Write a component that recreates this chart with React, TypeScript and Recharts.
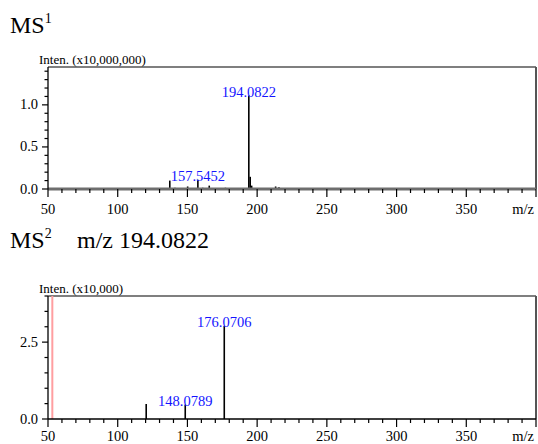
import React from 'react';
import { BarChart, Bar, XAxis, YAxis, ReferenceLine, LabelList } from 'recharts';

// MS1 spectrum (intensity in x10,000,000)
const ms1Mz = [122.1, 128.0, 137.4, 141.1, 150.2, 157.5452, 161.0, 165.7, 170.1, 177.3, 183.1, 194.0822, 195.09, 196.1, 213.3, 215.7, 306.1, 331.2];
const ms1Int = [0.01, 0.012, 0.1, 0.015, 0.03, 0.11, 0.015, 0.04, 0.012, 0.015, 0.01, 1.11, 0.145, 0.04, 0.03, 0.02, 0.01, 0.01];
const ms1Labeled = ['157.5452', '194.0822'];

// MS2 spectrum of m/z 194.0822 (intensity in x10,000)
const ms2Mz = [120.08, 148.0789, 176.0706];
const ms2Int = [0.49, 0.47, 3.03];
const ms2Labeled = ['148.0789', '176.0706'];
const ms2Marker = 53.1;

const xTicks = [50, 60, 70, 80, 90, 100, 110, 120, 130, 140, 150, 160, 170, 180, 190, 200, 210, 220, 230, 240, 250, 260, 270, 280, 290, 300, 310, 320, 330, 340, 350, 360, 370, 380, 390, 400];
const ms1YTicks = [0, 0.1, 0.2, 0.3, 0.4, 0.5, 0.6, 0.7, 0.8, 0.9, 1.0, 1.1, 1.2, 1.3, 1.4];
const ms1YLabels: Record<string, string> = { '0.0': '0.0', '0.5': '0.5', '1.0': '1.0' };
const ms2YTicks = [0, 0.5, 1.0, 1.5, 2.0, 2.5, 3.0, 3.5, 4.0];
const ms2YLabels: Record<string, string> = { '0.0': '0.0', '2.5': '2.5' };

const FONT = 'Liberation Serif';

const build = (mz: number[], inten: number[], labeled: string[]) =>
  mz.map((m, i) => {
    const s = String(m);
    return { mz: m, i: inten[i], label: labeled.includes(s) ? s : undefined };
  });

const ms1Data = build(ms1Mz, ms1Int, ms1Labeled);
const ms2Data = build(ms2Mz, ms2Int, ms2Labeled);

const makeXTick = (labelDy: number) => (props: any) => {
  const { x, y, payload } = props;
  const v = payload.value;
  const major = v % 50 === 0;
  const lbl = v === 400 ? 'm/z' : major ? String(v) : '';
  return (
    <g>
      <line x1={x} x2={x} y1={y} y2={y + (major ? 8 : 4)} stroke="#000" strokeWidth={1.2} />
      {lbl && (
        <text x={v === 400 ? x - 2 : x} y={y + labelDy} textAnchor={v === 400 ? 'end' : 'middle'} fontSize={14.5} style={{ fontFamily: FONT }} fill="#000">
          {lbl}
        </text>
      )}
    </g>
  );
};

const makeYTick = (labels: Record<string, string>) => (props: any) => {
  const { x, y, payload } = props;
  const key = Number(payload.value).toFixed(1);
  const lbl = labels[key];
  return (
    <g>
      <line x1={x - (lbl ? 6 : 3.5)} x2={x} y1={y} y2={y} stroke="#000" strokeWidth={1.2} />
      {lbl && (
        <text x={x - 10} y={y + 4.5} textAnchor="end" fontSize={14.5} style={{ fontFamily: FONT }} fill="#000">
          {lbl}
        </text>
      )}
    </g>
  );
};

const Peak = (props: any) => {
  const { x, y, width, height } = props;
  if (x == null || y == null) return null;
  const cx = x + width / 2;
  return <line x1={cx} x2={cx} y1={y} y2={y + height} stroke="#000" strokeWidth={1.6} />;
};

const PeakLabel = (props: any) => {
  const { x, y, width, value } = props;
  if (!value) return null;
  return (
    <text x={x + width / 2} y={y + 1} textAnchor="middle" fontSize={14.5} style={{ fontFamily: FONT }} fill="#1414ff">
      {value}
    </text>
  );
};

const Spectrum = ({ data, yMax, yTicks, yLabels, top, height, marginTop, xAxisHeight, baseStroke, baseWidth, marker, labelDy }: any) => (
  <div style={{ position: 'absolute', left: 0, top, width: 538, height }}>
    <BarChart width={538} height={height} data={data} margin={{ top: marginTop, right: 2, bottom: 0, left: 0 }} barSize={2}>
      <XAxis
        dataKey="mz"
        type="number"
        domain={[50, 400]}
        ticks={xTicks}
        interval={0}
        tickSize={0}
        tickMargin={0}
        tickLine={false}
        height={xAxisHeight}
        axisLine={{ stroke: baseStroke, strokeWidth: baseWidth }}
        tick={makeXTick(labelDy)}
        allowDataOverflow
      />
      <YAxis
        type="number"
        domain={[0, yMax]}
        ticks={yTicks}
        interval={0}
        tickSize={0}
        tickMargin={0}
        tickLine={false}
        width={48}
        axisLine={{ stroke: '#000', strokeWidth: 1.3 }}
        tick={makeYTick(yLabels)}
        allowDataOverflow
      />
      <ReferenceLine y={yMax} stroke="#000" strokeWidth={1.2} />
      <ReferenceLine x={400} stroke="#555" strokeWidth={2} />
      {marker != null && <ReferenceLine x={marker} stroke="#ff9ea0" strokeWidth={2} />}
      <Bar dataKey="i" isAnimationActive={false} shape={<Peak />}>
        <LabelList dataKey="label" content={<PeakLabel />} />
      </Bar>
    </BarChart>
  </div>
);

export default function App() {
  return (
    <div style={{ position: 'absolute', left: 0, top: 0, width: 538, height: 444, background: '#fff', overflow: 'hidden', fontFamily: FONT }}>
      <svg width={538} height={444} style={{ position: 'absolute', left: 0, top: 0, fontFamily: FONT }}>
        <text x={10} y={33} fontSize={24} fill="#000">
          MS<tspan fontSize={14} dy={-10}>1</tspan>
        </text>
        <text x={39} y={64} fontSize={13} fill="#000">Inten. (x10,000,000)</text>
        <text x={10} y={248} fontSize={24} fill="#000">
          MS<tspan fontSize={14} dy={-10}>2</tspan>
        </text>
        <text x={77} y={248} fontSize={24} fill="#000">m/z 194.0822</text>
        <text x={39} y={293} fontSize={13} fill="#000">Inten. (x10,000)</text>
      </svg>
      <Spectrum data={ms1Data} yMax={1.45} yTicks={ms1YTicks} yLabels={ms1YLabels} top={0} height={230} marginTop={67} xAxisHeight={41} baseStroke="#6e6e6e" baseWidth={3} labelDy={25} />
      <Spectrum data={ms2Data} yMax={4.0} yTicks={ms2YTicks} yLabels={ms2YLabels} top={230} height={214} marginTop={66} xAxisHeight={25} baseStroke="#000" baseWidth={1.5} marker={ms2Marker} labelDy={22} />
    </div>
  );
}
